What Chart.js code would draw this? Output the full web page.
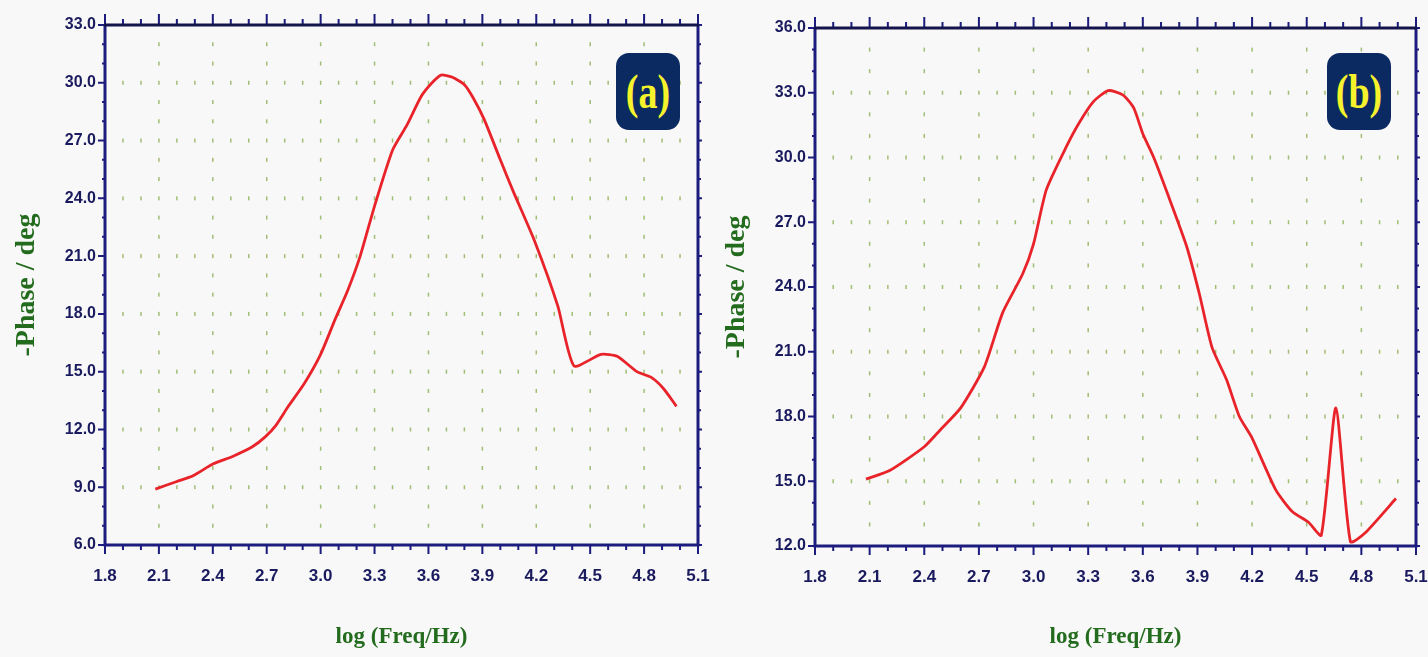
<!DOCTYPE html>
<html>
<head>
<meta charset="utf-8">
<title>Phase vs log frequency</title>
<script src="https://cdn.jsdelivr.net/npm/chart.js@4/dist/chart.umd.min.js"></script>
<style>
  body { margin: 0; background: #f8f8f8; }
  #wrap { position: relative; width: 1428px; height: 657px; overflow: hidden; }
  canvas { position: absolute; top: 0; }
  #chartA { left: 0; }
  #chartB { left: 710px; }
  .tag {
    position: absolute; top: 53px; width: 64px; height: 77px;
    background: #0b2a62; border-radius: 13px;
    color: #f6f22c; font: bold 38px "Liberation Serif", serif;
    display: flex; align-items: center; justify-content: center;
  }
  .tag span { display: inline-block; transform: scaleY(1.25); }
</style>
</head>
<body>
<div id="wrap">
  <canvas id="chartA" width="710" height="657"></canvas>
  <canvas id="chartB" width="718" height="657"></canvas>
  <div class="tag" style="left:616px"><span>(a)</span></div>
  <div class="tag" style="left:1327px"><span>(b)</span></div>
</div>
<script>
// Panel (a) data
const freqA = [2.08, 2.2, 2.29, 2.4, 2.51, 2.62, 2.69, 2.75, 2.82, 2.91, 3.0, 3.08, 3.15, 3.22, 3.3,
  3.4, 3.48, 3.56, 3.62, 3.67, 3.73, 3.8, 3.85, 3.91, 4.0, 4.07, 4.19, 4.32, 4.41,
  4.56, 4.65, 4.76, 4.84, 4.91, 4.98];
const phaseA = [8.9, 9.3, 9.6, 10.2, 10.6, 11.1, 11.6, 12.2, 13.2, 14.4, 15.9, 17.7, 19.2, 21.0, 23.6,
  26.5, 27.8, 29.3, 30.0, 30.4, 30.3, 29.9, 29.2, 28.1, 26.0, 24.4, 21.8, 18.4, 15.3,
  15.9, 15.8, 15.0, 14.7, 14.1, 13.2];

// Panel (b) data
const freqB = [2.08, 2.21, 2.4, 2.49, 2.6, 2.73, 2.83, 2.94, 3.0, 3.07, 3.18, 3.25, 3.33, 3.41, 3.49,
  3.55, 3.6, 3.66, 3.75, 3.84, 3.91, 3.98, 4.06, 4.13, 4.2, 4.33, 4.42, 4.51, 4.58,
  4.66, 4.74, 4.82, 4.99];
const phaseB = [15.1, 15.5, 16.6, 17.4, 18.4, 20.3, 22.8, 24.6, 26.0, 28.5, 30.5, 31.6, 32.6, 33.1, 32.9,
  32.3, 31.1, 30.0, 28.0, 25.9, 23.7, 21.2, 19.7, 18.0, 17.0, 14.6, 13.6, 13.1, 12.5,
  18.4, 12.2, 12.6, 14.2];

// Axis ranges and tick steps
const xRange = [1.8, 5.1];
const xStep = 0.3;
const yRangeA = [6, 33];
const yRangeB = [12, 36];
const yStep = 3;

const xTitle = 'log (Freq/Hz)';
const yTitle = '-Phase / deg';

const navy = '#1c1c7e';
const labelNavy = '#1a1a5e';
const titleGreen = '#236b1d';
const tickFont = '"Liberation Sans", Arial, sans-serif';

// Dotted grid, framed axes and minor ticks, placed through the chart scales
const framePlugin = {
  id: 'frame',
  beforeDatasetsDraw(chart) {
    const { ctx, scales: { x, y } } = chart;
    const nx = Math.round((x.max - x.min) / 0.1);
    const ny = Math.round(y.max - y.min);
    ctx.save();
    ctx.fillStyle = '#a2bd74';
    y.ticks.forEach(t => {
      if (t.value <= y.min || t.value >= y.max) return;
      const py = y.getPixelForValue(t.value);
      for (let i = 1; i < nx; i++) {
        const px = x.getPixelForValue(x.min + i * 0.1);
        ctx.fillRect(px - 0.75, py - 2, 1.5, 4);
      }
    });
    x.ticks.forEach(t => {
      if (t.value <= x.min + 1e-6 || t.value >= x.max - 1e-6) return;
      const px = x.getPixelForValue(t.value);
      for (let j = 1; j < ny; j++) {
        if (j % 3 === 0) continue;
        const py = y.getPixelForValue(y.min + j);
        ctx.fillRect(px - 0.75, py - 2, 1.5, 4);
      }
    });
    ctx.restore();
  },
  afterDraw(chart) {
    const { ctx, chartArea: a, scales: { x, y } } = chart;
    const nx = Math.round((x.max - x.min) / 0.1);
    const ny = Math.round(y.max - y.min);
    ctx.save();
    ctx.lineWidth = 2;
    ctx.strokeStyle = navy;
    ctx.beginPath();
    for (let i = 0; i <= nx; i++) {
      const px = x.getPixelForValue(x.min + i * 0.1);
      const major = i % 3 === 0;
      ctx.moveTo(px, a.bottom);
      ctx.lineTo(px, a.bottom + (major ? 9 : 5));
      ctx.moveTo(px, a.top);
      ctx.lineTo(px, a.top - (major ? 11 : 6));
    }
    for (let j = 0; j <= ny; j++) {
      const py = y.getPixelForValue(y.min + j);
      const major = j % 3 === 0;
      ctx.moveTo(a.left - (major ? 7 : 3), py);
      ctx.lineTo(a.left, py);
      ctx.moveTo(a.right, py);
      ctx.lineTo(a.right + (major ? 4 : 3), py);
    }
    ctx.stroke();
    ctx.lineWidth = 3;
    ctx.beginPath();
    ctx.moveTo(a.left, a.top);
    ctx.lineTo(a.left, a.bottom);
    ctx.lineTo(a.right, a.bottom);
    ctx.lineTo(a.right, a.top);
    ctx.stroke();
    ctx.strokeStyle = '#14144c';
    ctx.beginPath();
    ctx.moveTo(a.left - 1, a.top);
    ctx.lineTo(a.right + 1, a.top);
    ctx.stroke();
    ctx.restore();
  }
};

function makeChart(id, xs, ys, yRange, pad) {
  return new Chart(document.getElementById(id), {
    type: 'line',
    data: {
      datasets: [{
        data: xs.map((v, i) => ({ x: v, y: ys[i] })),
        borderColor: '#e8232a',
        borderWidth: 2.8,
        pointRadius: 0,
        tension: 0.2,
        fill: false
      }]
    },
    options: {
      responsive: false,
      animation: false,
      devicePixelRatio: 1,
      layout: { padding: pad },
      plugins: { legend: { display: false }, tooltip: { enabled: false } },
      scales: {
        x: {
          type: 'linear',
          min: xRange[0],
          max: xRange[1],
          grid: { display: false, drawTicks: false },
          border: { display: false },
          ticks: {
            stepSize: xStep,
            autoSkip: false,
            maxRotation: 0,
            padding: 21,
            color: labelNavy,
            font: { family: tickFont, size: 17, weight: 'bold' },
            callback: v => v.toFixed(1)
          },
          title: {
            display: true,
            text: xTitle,
            color: titleGreen,
            font: { family: '"Liberation Serif", serif', size: 23, weight: 'bold' },
            padding: { top: 0, bottom: 6 }
          },
          afterFit: s => {
            s.height = pad.xh;
            s.paddingLeft = 0;
            s.paddingRight = 0;
          }
        },
        y: {
          min: yRange[0],
          max: yRange[1],
          grid: { display: false, drawTicks: false },
          border: { display: false },
          ticks: {
            stepSize: yStep,
            autoSkip: false,
            padding: 9,
            color: labelNavy,
            font: { family: tickFont, size: 16, weight: 'bold' },
            callback: v => v.toFixed(1)
          },
          title: {
            display: true,
            text: yTitle,
            color: titleGreen,
            font: { family: '"Liberation Serif", serif', size: 28, weight: 'bold' },
            padding: { top: 10, bottom: 0 }
          },
          afterFit: s => {
            s.width = 105;
            s.paddingTop = 0;
            s.paddingBottom = 0;
          }
        }
      }
    },
    plugins: [framePlugin]
  });
}

makeChart('chartA', freqA, phaseA, yRangeA, { left: 0, right: 12, top: 25, bottom: 0, xh: 112 });
makeChart('chartB', freqB, phaseB, yRangeB, { left: 0, right: 12, top: 28, bottom: 0, xh: 111 });
</script>
</body>
</html>
